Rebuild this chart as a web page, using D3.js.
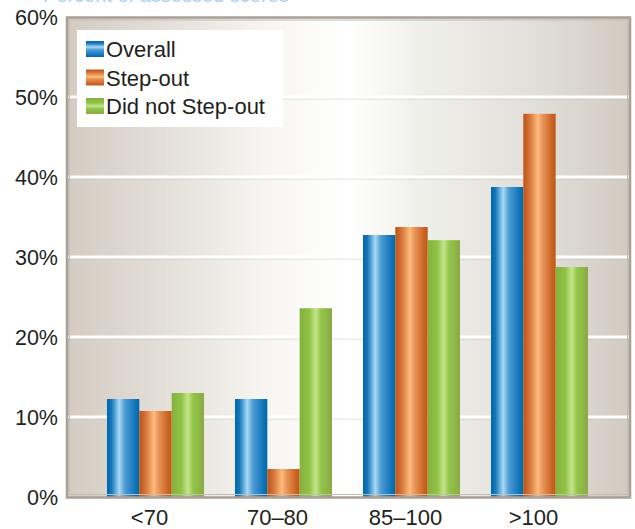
<!DOCTYPE html>
<html>
<head>
<meta charset="utf-8">
<script src="https://cdn.jsdelivr.net/npm/d3@7"></script>
<style>
  html, body { margin: 0; padding: 0; background: #ffffff; }
  svg { display: block; }
  text { font-family: "Liberation Sans", Arial, sans-serif; fill: #231f20; }
</style>
</head>
<body>
<svg id="chart" width="635" height="529"></svg>
<script>
// Score bands on the x axis
const categories = ["<70", "70\u201380", "85\u2013100", ">100"];
// Share of cases in each band (%)
const overall    = [12.25, 12.25, 32.75, 38.75];
const stepOut    = [10.75, 3.5, 33.75, 47.9];
const didNotStep = [13.0, 23.6, 32.1, 28.75];
const seriesNames = ["Overall", "Step-out", "Did not Step-out"];
const yTicks = [0, 10, 20, 30, 40, 50, 60];
const tickLabels = ["0%", "10%", "20%", "30%", "40%", "50%", "60%"];

const svg = d3.select("#chart");
const plot = { left: 66, right: 631, top: 17, bottom: 497 };

const defs = svg.append("defs");

function addGradient(id, stops, vertical) {
  const g = defs.append("linearGradient").attr("id", id)
    .attr("x1", 0).attr("y1", 0)
    .attr("x2", vertical ? 0 : 1).attr("y2", vertical ? 1 : 0);
  stops.forEach(([o, c]) => g.append("stop").attr("offset", o).attr("stop-color", c));
}

addGradient("bg", [
  [0, "#d4ccc3"], [0.15, "#e1dcd5"], [0.35, "#f6f5f1"], [0.5, "#ffffff"],
  [0.62, "#f0f0eb"], [0.85, "#e0ddd7"], [1, "#d2cac1"]
]);

const barStops = [
  [[0, "#0066ac"], [0.14, "#1677bc"], [0.38, "#a8d8f5"], [0.55, "#4d9dd4"], [0.85, "#1676bb"], [1, "#0067ab"]],
  [[0, "#bd5216"], [0.2, "#d6763b"], [0.45, "#fdbb7a"], [0.62, "#e58f55"], [0.9, "#c9621f"], [1, "#bf5717"]],
  [[0, "#84b13b"], [0.3, "#90c246"], [0.5, "#c6e48e"], [0.66, "#93c64a"], [1, "#8aa945"]]
];
barStops.forEach((s, i) => {
  addGradient("bar" + i, s, false);
  addGradient("sw" + i, s, true);
});

// Plot background
svg.append("rect")
  .attr("x", plot.left).attr("y", plot.top)
  .attr("width", plot.right - plot.left).attr("height", plot.bottom - plot.top)
  .attr("fill", "url(#bg)");

const x = d3.scaleBand()
  .domain(categories)
  .range([91.5, 603.5])
  .paddingInner(0.242)
  .paddingOuter(0.121);

const xSeries = d3.scaleBand()
  .domain(d3.range(seriesNames.length))
  .range([0, x.bandwidth()]);

const y = d3.scaleLinear().domain([0, 60]).range([plot.bottom, plot.top]);

// White gridlines with a faint shade underneath
const gridVals = yTicks.filter(t => t > 0 && t < 60);
svg.append("g").selectAll("line")
  .data(gridVals)
  .join("line")
  .attr("x1", plot.left).attr("x2", plot.right)
  .attr("y1", d => y(d) + 2).attr("y2", d => y(d) + 2)
  .attr("stroke", "#bdb6ad").attr("stroke-opacity", 0.5).attr("stroke-width", 1);
svg.append("g").selectAll("line")
  .data(gridVals)
  .join("line")
  .attr("x1", plot.left).attr("x2", plot.right)
  .attr("y1", d => y(d)).attr("y2", d => y(d))
  .attr("stroke", "#ffffff").attr("stroke-width", 3);

// Bars
const series = [overall, stepOut, didNotStep];
const barData = [];
categories.forEach((c, ci) => {
  series.forEach((s, si) => barData.push({ cat: c, si, v: s[ci] }));
});
svg.append("g").selectAll("rect")
  .data(barData)
  .join("rect")
  .attr("x", d => x(d.cat) + xSeries(d.si))
  .attr("y", d => y(d.v))
  .attr("width", xSeries.bandwidth())
  .attr("height", d => y(0) - y(d.v))
  .attr("fill", d => `url(#bar${d.si})`);

// Frame
svg.append("rect")
  .attr("x", plot.left + 1).attr("y", plot.top + 0.5)
  .attr("width", plot.right - plot.left - 2).attr("height", plot.bottom - plot.top)
  .attr("fill", "none").attr("stroke", "#a8a096").attr("stroke-width", 2.5);
svg.append("rect")
  .attr("x", plot.left + 3.5).attr("y", plot.top + 3)
  .attr("width", plot.right - plot.left - 7).attr("height", plot.bottom - plot.top - 5.5)
  .attr("fill", "none").attr("stroke", "#c4bcb2").attr("stroke-width", 1);

// Y axis labels
const yAxis = d3.axisLeft(y).tickValues(yTicks)
  .tickFormat((d, i) => tickLabels[i]).tickSize(0).tickPadding(0);
const yg = svg.append("g").attr("transform", `translate(58,0)`).call(yAxis);
yg.select(".domain").remove();
yg.selectAll("text")
  .attr("font-family", "Liberation Sans, Arial, sans-serif")
  .attr("font-size", 21.5).attr("fill", "#231f20")
  .attr("dy", "0.36em");

// X axis labels
const xAxis = d3.axisBottom(x).tickSize(0).tickPadding(0);
const xg = svg.append("g").attr("transform", `translate(-6,${plot.bottom})`).call(xAxis);
xg.select(".domain").remove();
xg.selectAll("text")
  .attr("font-family", "Liberation Sans, Arial, sans-serif")
  .attr("font-size", 22).attr("fill", "#231f20")
  .attr("y", 28).attr("dy", 0);

// Legend
const legend = svg.append("g");
legend.append("rect")
  .attr("x", 77).attr("y", 30).attr("width", 206).attr("height", 97)
  .attr("fill", "#ffffff");
const rows = legend.selectAll("g.row")
  .data(seriesNames)
  .join("g").attr("class", "row")
  .attr("transform", (d, i) => `translate(86,${41 + i * 28.5})`);
rows.append("rect")
  .attr("width", 18).attr("height", 16)
  .attr("fill", (d, i) => `url(#sw${i})`);
rows.append("text")
  .attr("x", 20).attr("y", 16)
  .attr("font-size", 22)
  .text(d => d);

// Title line above the plot, trimmed by the top edge
svg.append("text")
  .attr("x", 43).attr("y", 1.5)
  .attr("font-size", 20)
  .style("fill", "#a9d2ee")
  .text("Percent of assessed scores");
</script>
</body>
</html>
